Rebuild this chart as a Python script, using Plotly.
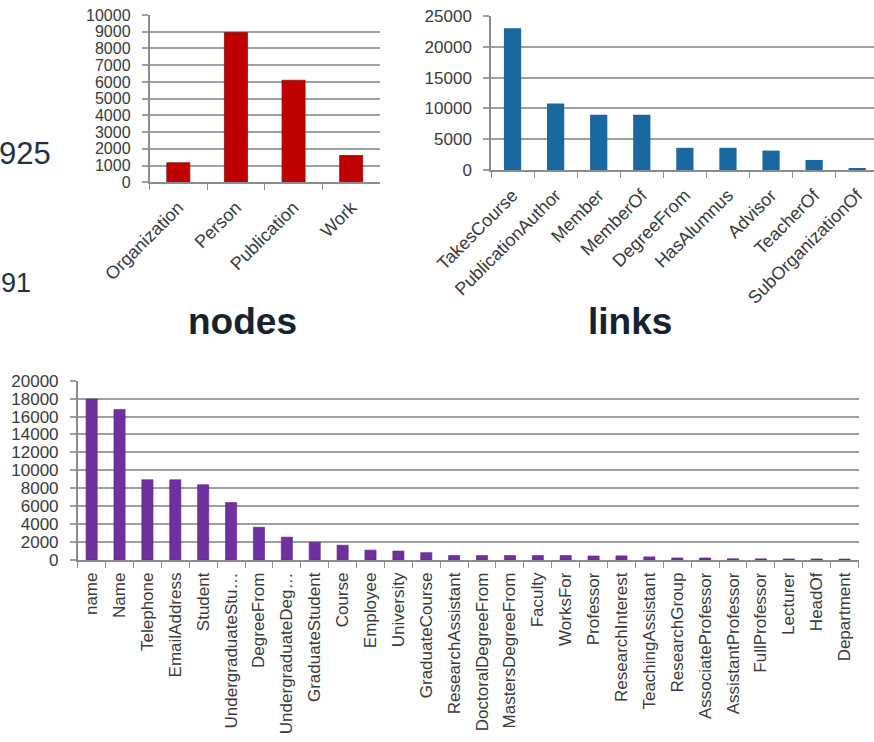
import plotly.graph_objects as go

# ---- data -------------------------------------------------------------
node_types = ["Organization", "Person", "Publication", "Work"]
node_counts = [1170, 8950, 6100, 1600]

link_types = ["TakesCourse", "PublicationAuthor", "Member", "MemberOf",
              "DegreeFrom", "HasAlumnus", "Advisor", "TeacherOf",
              "SubOrganizationOf"]
link_counts = [23000, 10800, 8950, 8950, 3600, 3600, 3150, 1630, 180]

attr_types = ["name", "Name", "Telephone", "EmailAddress", "Student",
              "UndergraduateStu…", "DegreeFrom", "UndergraduateDeg…",
              "GraduateStudent", "Course", "Employee", "University",
              "GraduateCourse", "ResearchAssistant", "DoctoralDegreeFrom",
              "MastersDegreeFrom", "Faculty", "WorksFor", "Professor",
              "ResearchInterest", "TeachingAssistant", "ResearchGroup",
              "AssociateProfessor", "AssistantProfessor", "FullProfessor",
              "Lecturer", "HeadOf", "Department"]
attr_counts = [17950, 16800, 8950, 8950, 8400, 6400, 3650, 2550, 1980,
               1650, 1100, 1000, 820, 500, 500, 500, 500, 500, 450, 460,
               350, 230, 230, 140, 130, 120, 120, 110]

node_ticks = list(range(0, 10001, 1000))
link_ticks = list(range(0, 25001, 5000))
attr_ticks = list(range(0, 20001, 2000))

W, H = 874, 742
FONT = "Liberation Sans, Arial, sans-serif"
TICK_COLOR = "#3a3a3a"
GRID = "#a0a0a0"
AXIS = "#8c8c8c"
TEXT_DARK = "#15232f"


def px_x(v):
    return v / W


def px_y(v):
    return 1 - v / H


fig = go.Figure()

fig.add_trace(go.Bar(x=node_types, y=node_counts, xaxis="x", yaxis="y",
                     marker=dict(color="#c00000",
                                 line=dict(color="#8e1010", width=0.8)),
                     width=0.4))
fig.add_trace(go.Bar(x=link_types, y=link_counts, xaxis="x2", yaxis="y2",
                     marker=dict(color="#1a68a0", line=dict(width=0)),
                     width=0.4))
fig.add_trace(go.Bar(x=attr_types, y=attr_counts, xaxis="x3", yaxis="y3",
                     marker=dict(color="#7030a0",
                                 line=dict(color="#5a2384", width=0.6)),
                     width=0.4))


def cat_axis(domain, anchor, n, size, angle, standoff, rng=None):
    return dict(
        domain=domain, anchor=anchor, type="category", automargin=False,
        range=rng if rng is not None else [-0.5, n - 0.5],
        tickson="boundaries", ticks="outside", ticklen=6, tickwidth=1,
        tickcolor=AXIS, showline=True, linecolor=AXIS,
        linewidth=1.5, showgrid=False, tickangle=angle,
        ticklabelstandoff=standoff,
        tickfont=dict(family=FONT, size=size, color=TICK_COLOR),
        fixedrange=True,
    )


def val_axis(domain, anchor, ticks, size):
    return dict(
        domain=domain, anchor=anchor, range=[0, ticks[-1]], automargin=False,
        tickvals=ticks, ticktext=[str(t) for t in ticks],
        showgrid=True, gridcolor=GRID, gridwidth=1.7,
        showline=True, linecolor=AXIS, linewidth=1.5,
        ticks="outside", ticklen=6, tickwidth=1.7, tickcolor=GRID,
        ticklabelstandoff=8, zeroline=False,
        tickfont=dict(family=FONT, size=size, color=TICK_COLOR),
        fixedrange=True,
    )


fig.update_layout(
    template="none",
    width=W, height=H,
    margin=dict(l=0, r=0, t=0, b=0, autoexpand=False),
    paper_bgcolor="white", plot_bgcolor="white",
    showlegend=False, bargap=0.6,
    xaxis=cat_axis([px_x(149.5), px_x(380)], "y", 4, 18, -45, 6),
    yaxis=val_axis([px_y(182.3), px_y(15)], "x", node_ticks, 16),
    xaxis2=cat_axis([px_x(491), 1.0], "y2", 9, 18, -45, 6,
                    rng=[-0.5, 8.39]),
    yaxis2=val_axis([px_y(170), px_y(16)], "x2", link_ticks, 17),
    xaxis3=cat_axis([px_x(77.7), px_x(858.5)], "y3", 28, 17, -90, 4),
    yaxis3=val_axis([px_y(560), px_y(380.7)], "x3", attr_ticks, 17),
)

# slide text around the charts
fig.add_annotation(text="925", x=px_x(-3), y=px_y(154), xref="paper",
                   yref="paper", xanchor="left", yanchor="middle",
                   showarrow=False,
                   font=dict(family=FONT, size=31, color="#1d3344"))
fig.add_annotation(text="91", x=px_x(-1), y=px_y(283), xref="paper",
                   yref="paper", xanchor="left", yanchor="middle",
                   showarrow=False,
                   font=dict(family=FONT, size=27, color="#1d3344"))
fig.add_annotation(text="<b>nodes</b>", x=px_x(242), y=px_y(321),
                   xref="paper", yref="paper", xanchor="center",
                   yanchor="middle", showarrow=False,
                   font=dict(family=FONT, size=37, color=TEXT_DARK))
fig.add_annotation(text="<b>links</b>", x=px_x(630), y=px_y(321),
                   xref="paper", yref="paper", xanchor="center",
                   yanchor="middle", showarrow=False,
                   font=dict(family=FONT, size=37, color=TEXT_DARK))

fig.write_html("out.html", config=dict(displayModeBar=False))
